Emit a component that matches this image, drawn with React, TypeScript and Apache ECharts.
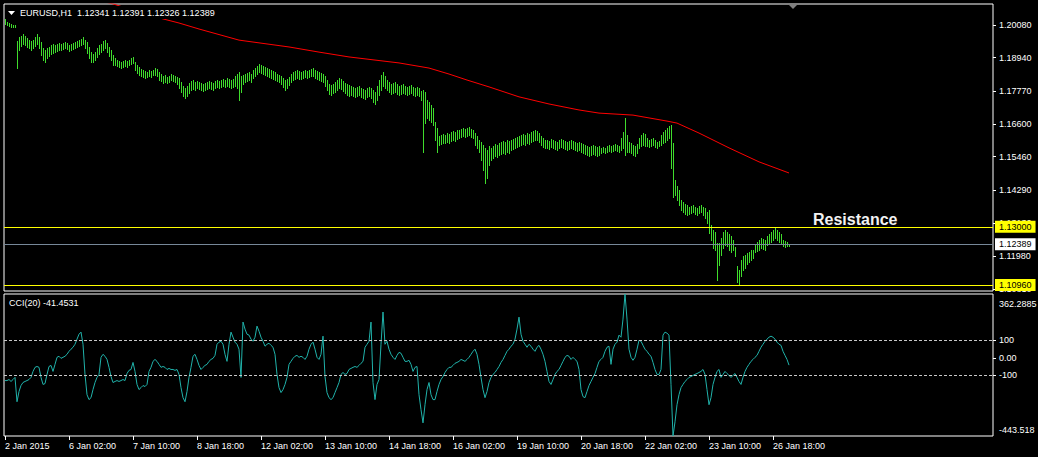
import React, { useEffect, useRef } from "react";
import * as echarts from "echarts";

const FONT = '"Liberation Sans", Arial, sans-serif';
const BAR_COLOR = "#3fdc2c";
const MA_COLOR = "#ff0000";
const CCI_COLOR = "#20b2aa";

const symbolTitle = "EURUSD,H1";
const lastOhlc = ["1.12341", "1.12391", "1.12326", "1.12389"];
const cciTitle = "CCI(20) -41.4531";
const annotationText = "Resistance";

// horizontal levels
const resistanceLevel = 1.13;
const supportLevel = 1.1096;
const bidPrice = 1.12389;

// time axis (bar index -> label), one bar = 1 hour
const timeTickBars = [0, 32, 64, 96, 128, 160, 192, 224, 256, 288, 320, 352, 384];
const timeTickLabels = [
  "2 Jan 2015", "6 Jan 02:00", "7 Jan 10:00", "8 Jan 18:00", "12 Jan 02:00",
  "13 Jan 10:00", "14 Jan 18:00", "16 Jan 02:00", "19 Jan 10:00", "20 Jan 18:00",
  "22 Jan 02:00", "23 Jan 10:00", "26 Jan 18:00",
];

// price scale ticks
const priceTicks = [1.2008, 1.1894, 1.1777, 1.166, 1.1546, 1.1429, 1.1313, 1.1198, 1.1081];
const priceMin = 1.1075;
const priceMax = 1.20817;

// CCI scale ticks
const cciTicks = [362.2885, 100, 0, -100, -443.518];
const cciTickLabels = ["362.2885", "100", "0.00", "-100", "-443.518"];
const cciLevels = [100, -100];

// H1 bars: highs
const barHigh = [
  1.2029, 1.2019, 1.2015, 1.2012, 1.2008, 1.2008,
  1.1952,
  1.1966, 1.1969, 1.1976, 1.1969, 1.1962, 1.1955, 1.1952, 1.1955, 1.1966, 1.1976, 1.1966,
  1.1948, 1.1927, 1.1920, 1.1927,
  1.1931, 1.1938, 1.1941, 1.1938, 1.1941, 1.1945,
  1.1941, 1.1945, 1.1948, 1.1945, 1.1938, 1.1941, 1.1945, 1.1948, 1.1952, 1.1955, 1.1959, 1.1966, 1.1955,
  1.1948, 1.1931, 1.1913, 1.1906, 1.1913, 1.1927, 1.1938,
  1.1941, 1.1952, 1.1955, 1.1945, 1.1931,
  1.1920, 1.1903, 1.1892,
  1.1885, 1.1882, 1.1878, 1.1882, 1.1885, 1.1882, 1.1885, 1.1892, 1.1896,
  1.1878, 1.1868, 1.1861,
  1.1854, 1.1850, 1.1847, 1.1843, 1.1850, 1.1847, 1.1850,
  1.1857, 1.1854,
  1.1843, 1.1836, 1.1829, 1.1833, 1.1826, 1.1829, 1.1836, 1.1833, 1.1829, 1.1826,
  1.1822, 1.1808, 1.1794, 1.1787, 1.1794,
  1.1805, 1.1812, 1.1815, 1.1808, 1.1812,
  1.1808, 1.1805, 1.1801, 1.1805, 1.1808, 1.1812, 1.1808, 1.1805,
  1.1812, 1.1815, 1.1812, 1.1815, 1.1819, 1.1815, 1.1822, 1.1819, 1.1815, 1.1819,
  1.1829, 1.1836, 1.1843, 1.1829,
  1.1833, 1.1836, 1.1840, 1.1843, 1.1836,
  1.1850, 1.1857, 1.1864, 1.1871, 1.1868, 1.1864, 1.1861, 1.1857,
  1.1854, 1.1850, 1.1847, 1.1843, 1.1836, 1.1833,
  1.1829, 1.1822, 1.1815, 1.1819, 1.1826,
  1.1836, 1.1843, 1.1847, 1.1850, 1.1847,
  1.1843, 1.1847, 1.1850, 1.1847, 1.1850, 1.1854, 1.1857,
  1.1850, 1.1847, 1.1843, 1.1840, 1.1836,
  1.1829, 1.1815, 1.1801, 1.1798, 1.1801,
  1.1808, 1.1815, 1.1822, 1.1819, 1.1812, 1.1805, 1.1801, 1.1798,
  1.1794, 1.1791, 1.1787, 1.1791, 1.1794, 1.1787, 1.1784, 1.1780, 1.1787, 1.1791,
  1.1787, 1.1780, 1.1773,
  1.1794, 1.1815, 1.1833, 1.1843, 1.1829,
  1.1815, 1.1808, 1.1801, 1.1805, 1.1808, 1.1801, 1.1794, 1.1798, 1.1801,
  1.1794, 1.1791, 1.1794, 1.1798, 1.1791, 1.1787, 1.1791, 1.1787,
  1.1777, 1.1780, 1.1773,
  1.1745, 1.1738, 1.1728, 1.1717,
  1.1668, 1.1647,
  1.1619, 1.1622, 1.1626, 1.1622, 1.1629, 1.1626, 1.1633, 1.1636, 1.1633, 1.1640,
  1.1640, 1.1643, 1.1647, 1.1643, 1.1647, 1.1650, 1.1643, 1.1640,
  1.1629, 1.1619, 1.1605,
  1.1598, 1.1587, 1.1577, 1.1570, 1.1584,
  1.1577, 1.1584, 1.1591, 1.1587, 1.1594, 1.1598, 1.1601, 1.1598, 1.1605, 1.1601,
  1.1605, 1.1608, 1.1612, 1.1615, 1.1619, 1.1622, 1.1626, 1.1622, 1.1629, 1.1626, 1.1633, 1.1636, 1.1640,
  1.1636, 1.1629, 1.1619, 1.1612, 1.1605,
  1.1605, 1.1601, 1.1608, 1.1605, 1.1601, 1.1598, 1.1605, 1.1608, 1.1605, 1.1601, 1.1598, 1.1601, 1.1605, 1.1601, 1.1598, 1.1594, 1.1598,
  1.1594, 1.1591, 1.1587, 1.1584, 1.1580, 1.1584, 1.1587, 1.1584, 1.1580, 1.1584,
  1.1577, 1.1580, 1.1577, 1.1584, 1.1587, 1.1584, 1.1587, 1.1591, 1.1587, 1.1584,
  1.1612, 1.1633, 1.1682, 1.1622,
  1.1598, 1.1594, 1.1587, 1.1584, 1.1591,
  1.1612, 1.1622, 1.1629, 1.1626,
  1.1612, 1.1605, 1.1608, 1.1612, 1.1605, 1.1598, 1.1601,
  1.1622, 1.1633, 1.1640, 1.1647, 1.1654,
  1.1657, 1.1594,
  1.1465, 1.1443, 1.1429,
  1.1394, 1.1387, 1.1380, 1.1377, 1.1370, 1.1373, 1.1377, 1.1370, 1.1366, 1.1373, 1.1377, 1.1370,
  1.1366, 1.1352, 1.1359,
  1.1307, 1.1289, 1.1282,
  1.1244, 1.1244,
  1.1261, 1.1282, 1.1289,
  1.1282, 1.1275, 1.1268, 1.1254,
  1.1230,
  1.1163, 1.1149,
  1.1184, 1.1198, 1.1202,
  1.1209, 1.1212, 1.1219, 1.1219,
  1.1240, 1.1247, 1.1254, 1.1261, 1.1258, 1.1254,
  1.1268, 1.1275, 1.1282, 1.1289, 1.1296,
  1.1289, 1.1282, 1.1275,
  1.1254, 1.1251, 1.1247, 1.1239,
];

// H1 bars: lows
const barLow = [
  1.2012, 1.2008, 1.2004, 1.2001, 1.2001, 1.2001,
  1.1857,
  1.1920, 1.1934, 1.1941, 1.1938, 1.1931, 1.1927, 1.1920, 1.1927, 1.1934, 1.1941, 1.1927,
  1.1903, 1.1885, 1.1878, 1.1892,
  1.1899, 1.1906, 1.1910, 1.1913, 1.1917, 1.1920,
  1.1920, 1.1924, 1.1927, 1.1924, 1.1917, 1.1920, 1.1924, 1.1927, 1.1931, 1.1934, 1.1938, 1.1941, 1.1927,
  1.1910, 1.1892, 1.1878, 1.1878, 1.1885, 1.1896, 1.1906,
  1.1913, 1.1920, 1.1927, 1.1913, 1.1899,
  1.1885, 1.1868, 1.1868,
  1.1864, 1.1861, 1.1857, 1.1861, 1.1864, 1.1861, 1.1868, 1.1871, 1.1875,
  1.1850, 1.1840, 1.1833,
  1.1829, 1.1826, 1.1822, 1.1826, 1.1829, 1.1826, 1.1833,
  1.1833, 1.1829,
  1.1815, 1.1812, 1.1805, 1.1808, 1.1805, 1.1808, 1.1815, 1.1812, 1.1808, 1.1801,
  1.1787, 1.1773, 1.1759, 1.1752, 1.1759,
  1.1770, 1.1780, 1.1784, 1.1780, 1.1787,
  1.1784, 1.1780, 1.1777, 1.1780, 1.1784, 1.1787, 1.1784, 1.1780,
  1.1787, 1.1791, 1.1787, 1.1791, 1.1794, 1.1791, 1.1794, 1.1791, 1.1787, 1.1791,
  1.1794, 1.1787, 1.1745, 1.1773,
  1.1801, 1.1808, 1.1812, 1.1815, 1.1808,
  1.1822, 1.1829, 1.1836, 1.1843, 1.1840, 1.1836, 1.1833, 1.1829,
  1.1826, 1.1822, 1.1819, 1.1815, 1.1812, 1.1808,
  1.1801, 1.1791, 1.1780, 1.1787, 1.1798,
  1.1808, 1.1815, 1.1819, 1.1822, 1.1819,
  1.1819, 1.1822, 1.1826, 1.1822, 1.1826, 1.1829, 1.1829,
  1.1822, 1.1819, 1.1815, 1.1812, 1.1808,
  1.1794, 1.1780, 1.1766, 1.1763, 1.1770,
  1.1773, 1.1780, 1.1787, 1.1784, 1.1777, 1.1770, 1.1763, 1.1759,
  1.1763, 1.1759, 1.1756, 1.1759, 1.1763, 1.1756, 1.1752, 1.1749, 1.1756, 1.1759,
  1.1752, 1.1738, 1.1731,
  1.1745, 1.1763, 1.1780, 1.1794, 1.1787,
  1.1780, 1.1773, 1.1766, 1.1770, 1.1773, 1.1766, 1.1763, 1.1766, 1.1770,
  1.1766, 1.1763, 1.1766, 1.1770, 1.1763, 1.1759, 1.1763, 1.1759,
  1.1745, 1.1563, 1.1664,
  1.1682, 1.1675, 1.1668, 1.1657,
  1.1605, 1.1563,
  1.1587, 1.1591, 1.1594, 1.1594, 1.1598, 1.1594, 1.1601, 1.1605, 1.1601, 1.1608,
  1.1612, 1.1615, 1.1619, 1.1615, 1.1619, 1.1622, 1.1615, 1.1612,
  1.1587, 1.1577, 1.1563,
  1.1535, 1.1500, 1.1454, 1.1472, 1.1517,
  1.1535, 1.1542, 1.1549, 1.1545, 1.1552, 1.1556, 1.1559, 1.1556, 1.1563, 1.1559,
  1.1570, 1.1573, 1.1577, 1.1580, 1.1584, 1.1587, 1.1591, 1.1587, 1.1594, 1.1591, 1.1598, 1.1601, 1.1605,
  1.1605, 1.1598, 1.1587, 1.1580, 1.1577,
  1.1577, 1.1573, 1.1580, 1.1577, 1.1573, 1.1570, 1.1577, 1.1580, 1.1577, 1.1573, 1.1570, 1.1573, 1.1577, 1.1573, 1.1570, 1.1566, 1.1570,
  1.1563, 1.1559, 1.1556, 1.1552, 1.1549, 1.1552, 1.1556, 1.1552, 1.1549, 1.1552,
  1.1559, 1.1563, 1.1559, 1.1563, 1.1566, 1.1563, 1.1566, 1.1570, 1.1566, 1.1563,
  1.1570, 1.1577, 1.1552, 1.1563,
  1.1563, 1.1559, 1.1552, 1.1549, 1.1559,
  1.1577, 1.1584, 1.1587, 1.1584,
  1.1584, 1.1580, 1.1584, 1.1587, 1.1580, 1.1577, 1.1584,
  1.1587, 1.1594, 1.1598, 1.1605, 1.1612,
  1.1507, 1.1405,
  1.1412, 1.1394, 1.1377,
  1.1359, 1.1352, 1.1345, 1.1342, 1.1345, 1.1349, 1.1352, 1.1345, 1.1342, 1.1349, 1.1352, 1.1342,
  1.1331, 1.1314, 1.1279,
  1.1254, 1.1226, 1.1219,
  1.1114, 1.1166,
  1.1202, 1.1226, 1.1237,
  1.1233, 1.1219, 1.1212, 1.1219,
  1.1198,
  1.1107, 1.1096,
  1.1128, 1.1149, 1.1156,
  1.1170, 1.1177, 1.1184, 1.1191,
  1.1212, 1.1216, 1.1219, 1.1226, 1.1223, 1.1219,
  1.1237, 1.1244, 1.1247, 1.1254, 1.1261,
  1.1254, 1.1247, 1.1244,
  1.1233, 1.1230, 1.1233, 1.1233,
];

// moving average (red), sampled at bar indices
const maBars = [40, 54, 59, 77, 87, 97, 117, 142, 157, 172, 197, 212, 222, 231, 242, 257, 272, 287, 297, 314, 331, 336, 347, 362, 377, 392];
const maValues = [1.2106, 1.2082, 1.2071, 1.2033, 1.2015, 1.1994, 1.1955, 1.1931, 1.1913, 1.1896, 1.1875, 1.1857, 1.1836, 1.1815, 1.1791, 1.1756, 1.1731, 1.1710, 1.1699, 1.1692, 1.1671, 1.1664, 1.1629, 1.1577, 1.1528, 1.1489];

// CCI(20) per bar
const cciValues = [
  -129, -129, -123, -134, -123, -111, -249, -191, -157, -140,
  -134, -129, -123, -111, -77, -54, -49, -54, -111, -151,
  -146, -94, -49, -43, -77, -37, 3, 9, -3, 3,
  9, 20, 37, 49, 60, 77, 106, 134, 146, 77,
  -94, -209, -237, -226, -180, -140, -111, -94, 3, 20,
  9, -9, -54, -106, -140, -134, -129, -134, -129, -123,
  -129, -89, -71, -66, -26, -77, -151, -180, -169, -157,
  -163, -151, -77, -54, -20, -9, -20, -37, -54, -49,
  -54, -66, -60, -66, -66, -71, -66, -94, -169, -226,
  -249, -191, -111, -54, 9, 20, -9, -43, -66, -54,
  -43, -37, -20, -9, -3, 14, 77, 89, 94, 77,
  20, -20, 77, 146, 117, 89, 77, 49, -111, 203,
  163, 134, 129, 106, 94, 117, 180, 151, 117, 94,
  66, 77, 83, 71, 60, 20, -94, -169, -197, -180,
  -151, -111, -37, -20, -3, 9, 14, 3, 9, 3,
  -9, 9, 49, 77, 89, 49, 3, -9, 20, 123,
  -106, -197, -226, -237, -226, -197, -169, -140, -94, -83,
  -94, -89, -66, -60, -54, -49, -54, -43, -31, -20,
  60, 77, 94, 203, -140, -237, -151, -123, 77, 260,
  77, 94, 49, 20, 3, -9, 14, 31, 26, 3,
  -20, -20, -14, -37, -77, -54, -49, -209, -294, -369,
  -266, -180, -140, -209, -237, -237, -191, -151, -123, -106,
  -83, -66, -54, -54, -43, -31, -26, -20, -9, -14,
  -20, -9, 3, 20, 37, 49, 20, -37, -111, -180,
  -226, -191, -140, -111, -94, -83, -66, -49, -26, -9,
  14, 37, 49, 66, 77, 106, 163, 231, 134, 94,
  77, 60, 77, 66, 49, 37, 60, 71, 49, 20,
  -20, -77, -134, -151, -123, -94, -77, -66, -43, -20,
  3, 14, 9, -9, 3, -9, -20, -66, -180, -220,
  -226, -191, -157, -134, -111, -89, -54, -20, -9, 3,
  37, 60, 66, -37, 49, 77, 89, 129, 117, 220,
  362.2885, 220, 49, 3, -14, 3, 49, 100, 94, 71,
  49, 37, 20, 9, -26, -66, -94, -94, -66, 129,
  146, 140, 129, -151, -443.518, -363, -266, -209, -169, -151,
  -134, -123, -111, -106, -100, -94, -89, -83, -77, -66,
  -94, -180, -266, -226, -151, -111, -77, -66, -111, -94,
  -77, -89, -100, -111, -100, -89, -111, -134, -151, -111,
  -77, -54, -37, -20, -9, 3, 14, 37, 60, 77,
  94, 106, 117, 123, 117, 106, 89, 77, 71, 37,
  14, -9, -41.4531,
];

export default function App() {
  const ref = useRef<HTMLDivElement>(null);

  useEffect(() => {
    if (!ref.current) return;
    const chart = echarts.init(ref.current, null, { renderer: "svg" });

    const n = Math.min(barHigh.length, barLow.length);
    const barData: number[][] = [];
    for (let i = 0; i < n; i++) barData.push([i, barLow[i], barHigh[i]]);
    const cciData = cciValues.map((v, i) => [i, v]);
    const maData = maBars.map((b, k) => [b, maValues[k]]);

    const labelFont = { color: "#ffffff", fontSize: 9, fontFamily: FONT };

    const levelLabel = (bg: string) => ({
      show: true,
      position: "end",
      distance: 2,
      backgroundColor: bg,
      color: "#000",
      fontSize: 9,
      fontFamily: FONT,
      padding: [2, 4, 1, 4],
    });

    const option: any = {
      animation: false,
      backgroundColor: "#000",
      textStyle: { fontFamily: FONT },
      grid: [
        { left: 4, top: 4, width: 989, height: 287, show: true, borderColor: "#ffffff", borderWidth: 1, backgroundColor: "transparent", outerBoundsMode: "none", containLabel: false },
        { left: 4, top: 294, width: 989, height: 142, show: true, borderColor: "#ffffff", borderWidth: 1, backgroundColor: "transparent", outerBoundsMode: "none", containLabel: false },
      ],
      xAxis: [
        {
          type: "value", gridIndex: 0, min: -0.5, max: 494, position: "bottom",
          axisLine: { show: false, onZero: false }, axisTick: { show: false }, axisLabel: { show: false }, splitLine: { show: false },
        },
        {
          type: "value", gridIndex: 1, min: -0.5, max: 494, position: "bottom",
          axisLine: { show: false, onZero: false },
          axisTick: { show: true, length: 4, inside: false, lineStyle: { color: "#ffffff" }, customValues: timeTickBars },
          axisLabel: {
            show: true, customValues: timeTickBars, hideOverlap: false,
            formatter: (v: number) => { const k = timeTickBars.indexOf(v); return k >= 0 ? timeTickLabels[k] : ""; },
            ...labelFont, align: "left", margin: 5,
          },
          splitLine: { show: false },
        },
      ],
      yAxis: [
        {
          type: "value", gridIndex: 0, position: "right", min: priceMin, max: priceMax,
          axisLine: { show: false, onZero: false },
          axisTick: { show: true, length: 3, inside: false, lineStyle: { color: "#ffffff" }, customValues: priceTicks },
          axisLabel: {
            show: true, customValues: priceTicks, hideOverlap: false,
            formatter: (v: number) => v.toFixed(5),
            ...labelFont, margin: 6,
          },
          splitLine: { show: false },
        },
        {
          type: "value", gridIndex: 1, position: "right", min: -443.518, max: 362.2885,
          axisLine: { show: false, onZero: false },
          axisTick: { show: true, length: 3, inside: false, lineStyle: { color: "#ffffff" }, customValues: [100, 0, -100] },
          axisLabel: {
            show: true, customValues: cciTicks, hideOverlap: false, showMinLabel: true, showMaxLabel: true,
            formatter: (v: number) => {
              const k = cciTicks.indexOf(v);
              if (k < 0) return "";
              if (k === 0) return "{top|" + cciTickLabels[k] + "}";
              if (k === cciTicks.length - 1) return "{bot|" + cciTickLabels[k] + "}";
              return cciTickLabels[k];
            },
            ...labelFont, margin: 6,
            rich: {
              top: { ...labelFont, padding: [20, 0, 0, 0] },
              bot: { ...labelFont, padding: [0, 0, 12, 0] },
            },
          },
          splitLine: { show: false },
        },
      ],
      series: [
        {
          type: "custom", name: "bars", xAxisIndex: 0, yAxisIndex: 0, silent: true, z: 2,
          data: barData,
          encode: { x: 0, y: [1, 2] },
          renderItem: (_params: any, api: any) => {
            const i = api.value(0);
            const lo = api.coord([i, api.value(1)]);
            const hi = api.coord([i, api.value(2)]);
            const x = Math.round(lo[0]) + 0.5;
            return {
              type: "line",
              shape: { x1: x, y1: Math.round(hi[1]), x2: x, y2: Math.round(lo[1]) + 1 },
              style: { stroke: BAR_COLOR, lineWidth: 1 },
            };
          },
        },
        {
          type: "line", name: "MA", xAxisIndex: 0, yAxisIndex: 0, silent: true, z: 3,
          data: maData, symbol: "none", showSymbol: false,
          lineStyle: { color: MA_COLOR, width: 1 },
          markLine: {
            silent: true, symbol: ["none", "none"], animation: false, precision: 5,
            emphasis: { disabled: true },
            data: [
              { yAxis: resistanceLevel, lineStyle: { color: "#ffff00", width: 1, type: "solid" }, label: { ...levelLabel("#ffff00"), formatter: resistanceLevel.toFixed(5) } },
              { yAxis: bidPrice, lineStyle: { color: "#778899", width: 1, type: "solid" }, label: { ...levelLabel("#ffffff"), formatter: bidPrice.toFixed(5) } },
              { yAxis: supportLevel, lineStyle: { color: "#ffff00", width: 1, type: "solid" }, label: { ...levelLabel("#ffff00"), formatter: supportLevel.toFixed(5) } },
            ],
          },
        },
        {
          type: "line", name: "CCI", xAxisIndex: 1, yAxisIndex: 1, silent: true, z: 3,
          data: cciData, symbol: "none", showSymbol: false,
          lineStyle: { color: CCI_COLOR, width: 1 },
          markLine: {
            silent: true, symbol: ["none", "none"], animation: false, precision: 4,
            emphasis: { disabled: true },
            label: { show: false },
            lineStyle: { color: "#c8c8c8", width: 1, type: [3, 2] },
            data: cciLevels.map((v) => ({ yAxis: v })),
          },
        },
      ],
      graphic: [
        { type: "rect", z: 50, shape: { x: 6, y: 6, width: 218, height: 13 }, style: { fill: "#000000" } },
        { type: "polygon", z: 51, shape: { points: [[8, 11], [15, 11], [11.5, 15]] }, style: { fill: "#ffffff" } },
        {
          type: "text", z: 51, x: 20, y: 13,
          style: { text: symbolTitle + "  " + lastOhlc.join(" "), fill: "#ffffff", font: `9px ${FONT}`, verticalAlign: "middle", align: "left" },
        },
        { type: "polygon", z: 51, shape: { points: [[789, 5], [797, 5], [793, 9]] }, style: { fill: "#808080" } },
        {
          type: "text", z: 51, x: 813, y: 219,
          style: { text: annotationText, fill: "#f2f2f2", font: `bold 16px ${FONT}`, verticalAlign: "middle", align: "left" },
        },
        {
          type: "text", z: 51, x: 9, y: 303,
          style: { text: cciTitle, fill: "#ffffff", font: `9px ${FONT}`, verticalAlign: "middle", align: "left" },
        },
      ],
    };

    chart.setOption(option);
    return () => chart.dispose();
  }, []);

  return (
    <div
      ref={ref}
      style={{ position: "fixed", left: 0, top: 0, width: 1038, height: 457, background: "#000" }}
    />
  );
}
